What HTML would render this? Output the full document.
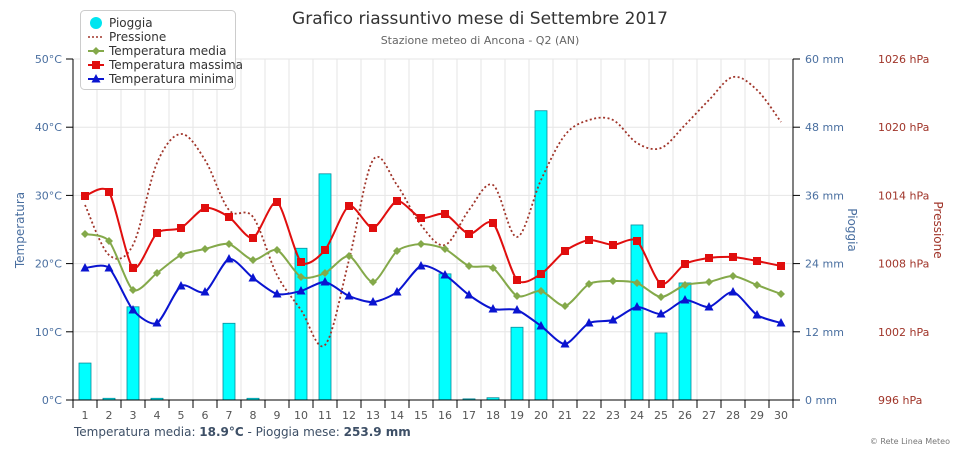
<!DOCTYPE html>
<html><head><meta charset="utf-8"><style>
body{margin:0;background:#fff;font-family:"DejaVu Sans","Liberation Sans",sans-serif}
</style></head><body>
<svg id="s" width="960" height="450" xmlns="http://www.w3.org/2000/svg" font-family="DejaVu Sans, Liberation Sans, sans-serif"></svg>
<script>
const s=document.getElementById('s');
let h='';
const X=i=>61+24*i;
for(let k=0;k<=5;k++){const y=400-k*68.2;h+=`<line x1="73" x2="793" y1="${y}" y2="${y}" stroke="#e6e6e6"/>`;}
for(let i=0;i<=30;i++){const x=73+24*i;h+=`<line x1="${x}" x2="${x}" y1="59" y2="400" stroke="#e6e6e6"/>`;}
const rain=[6.5,0.3,16.4,0.3,0,0,13.5,0.3,0,26.7,39.8,0,0,0,0,22.2,0.2,0.4,12.8,50.9,0,0,0,30.8,11.8,20.6,0,0,0,0];
rain.forEach((r,i)=>{if(r>0){const hh=r*5.683;h+=`<rect x="${X(i+1)-6}" y="${400-hh}" width="12" height="${hh}" fill="#00ffff" stroke="#0a8a9a" stroke-width="0.8"/>`;}});
function path(pts,t){t=t||6;let d=`M${pts[0][0]},${pts[0][1]}`;for(let i=0;i<pts.length-1;i++){const p0=pts[i-1]||pts[i],p1=pts[i],p2=pts[i+1],p3=pts[i+2]||p2;d+=` C${p1[0]+(p2[0]-p0[0])/t},${p1[1]+(p2[1]-p0[1])/t} ${p2[0]-(p3[0]-p1[0])/t},${p2[1]-(p3[1]-p1[1])/t} ${p2[0]},${p2[1]}`;}return d;}
const pres=[205,255,245,163,134,160,210,217,275,310,345,260,160,185,225,245,210,185,237,180,135,120,120,143,148,125,100,77,90,122];
h+=`<path d="${path(pres.map((y,i)=>[X(i+1),y]))}" fill="none" stroke="#a0352a" stroke-width="1.8" stroke-dasharray="2,2.5"/>`;
const tmax=[196,192,268,233,228,208,217,238,202,262,250,206,228,201,218,214,234,223,280,274,251,240,245,241,284,264,258,257,261,266];
const tmed=[234,241,290,273,255,249,244,260,250,277,273,256,282,251,244,249,266,268,296,291,306,284,281,283,297,285,282,276,285,294];
const tmin=[268,268,310,323,286,292,259,278,294,291,282,296,302,292,266,275,295,309,310,326,344,323,320,307,314,300,307,292,315,323];
function ser(a,c,m){h+=`<path d="${path(a.map((y,i)=>[X(i+1),y]),8)}" fill="none" stroke="${c}" stroke-width="2"/>`;a.forEach((y,i)=>{const x=X(i+1);if(m=='d')h+=`<path d="M${x},${y-4}L${x+4},${y}L${x},${y+4}L${x-4},${y}Z" fill="${c}"/>`;else if(m=='s')h+=`<rect x="${x-4}" y="${y-4}" width="8" height="8" fill="${c}"/>`;else h+=`<path d="M${x},${y-5}L${x+4.5},${y+3.5}L${x-4.5},${y+3.5}Z" fill="${c}"/>`;});}
ser(tmed,'#84a94a','d');ser(tmax,'#e00e0e','s');ser(tmin,'#0a14d0','t');
h+=`<line x1="73" x2="73" y1="59" y2="408" stroke="#000"/><line x1="793" x2="793" y1="59" y2="400" stroke="#000"/><line x1="73" x2="793" y1="400" y2="400" stroke="#000"/>`;
for(let i=0;i<=30;i++){const x=73+24*i;h+=`<line x1="${x}" x2="${x}" y1="400" y2="408" stroke="#000"/>`;}
for(let i=1;i<=30;i++)h+=`<text x="${X(i)}" y="419" font-size="11" fill="#555" text-anchor="middle">${i}</text>`;
const pl=['996','1002','1008','1014','1020','1026'];
for(let k=0;k<=5;k++){const y=400-k*68.2;h+=`<line x1="66" x2="73" y1="${y}" y2="${y}" stroke="#000"/><line x1="793" x2="800" y1="${y}" y2="${y}" stroke="#000"/>`;
h+=`<text x="62" y="${y+4}" font-size="11" fill="#4a6fa0" text-anchor="end">${k*10}°C</text>`;
h+=`<text x="805" y="${y+4}" font-size="11" fill="#4a6fa0">${k*12} mm</text>`;
h+=`<text x="878" y="${y+4}" font-size="11" fill="#a0352a">${pl[k]} hPa</text>`;}
h+=`<text transform="translate(24,230) rotate(-90)" font-size="12" fill="#4a6fa0" text-anchor="middle">Temperatura</text>`;
h+=`<text transform="translate(848,230) rotate(90)" font-size="12" fill="#4a6fa0" text-anchor="middle">Pioggia</text>`;
h+=`<text transform="translate(934,230) rotate(90)" font-size="12" fill="#a0352a" text-anchor="middle">Pressione</text>`;
h+=`<text x="480" y="24" font-size="17" fill="#333" text-anchor="middle">Grafico riassuntivo mese di Settembre 2017</text>`;
h+=`<text x="480" y="44" font-size="11" fill="#666" text-anchor="middle">Stazione meteo di Ancona - Q2 (AN)</text>`;
h+=`<text x="74" y="436" font-size="12" fill="#3d4f66">Temperatura media: <tspan font-weight="bold">18.9°C</tspan> - Pioggia mese: <tspan font-weight="bold">253.9 mm</tspan></text>`;
h+=`<text x="950" y="444" font-size="8" fill="#777" text-anchor="end">© Rete Linea Meteo</text>`;
h+=`<rect x="80.5" y="10.5" width="155" height="79" rx="4" fill="#fff" fill-opacity="0.9" stroke="#ccc"/>`;
const L=[['Pioggia',23],['Pressione',37],['Temperatura media',51],['Temperatura massima',65],['Temperatura minima',79]];
L.forEach(([t,y])=>h+=`<text x="109" y="${y+4}" font-size="12" fill="#333">${t}</text>`);
h+=`<circle cx="96" cy="23" r="6" fill="#00e5f0"/>`;
h+=`<line x1="88" x2="104" y1="37" y2="37" stroke="#a0352a" stroke-width="1.5" stroke-dasharray="2,2"/>`;
h+=`<line x1="88" x2="104" y1="51" y2="51" stroke="#84a94a" stroke-width="2"/><path d="M96,47L100,51L96,55L92,51Z" fill="#84a94a"/>`;
h+=`<line x1="88" x2="104" y1="65" y2="65" stroke="#e00e0e" stroke-width="2"/><rect x="92" y="61" width="8" height="8" fill="#e00e0e"/>`;
h+=`<line x1="88" x2="104" y1="79" y2="79" stroke="#0a14d0" stroke-width="2"/><path d="M96,74L100.5,82.5L91.5,82.5Z" fill="#0a14d0"/>`;
s.innerHTML=h;
</script>
</body></html>
